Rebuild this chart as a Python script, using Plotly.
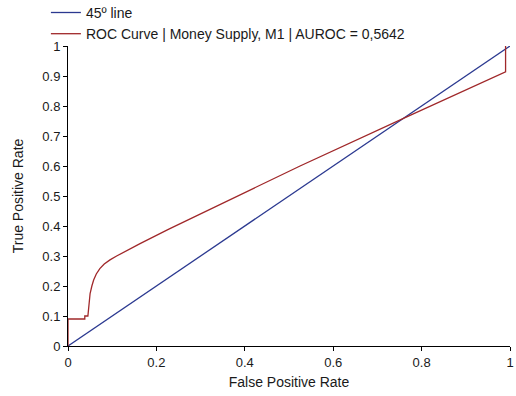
import plotly.graph_objects as go

# Diagonal reference line
diag_fpr = [0, 1]
diag_tpr = [0, 1]

# ROC curve points (false positive rate, true positive rate)
roc_fpr = [0, 0, 0.038, 0.038, 0.045, 0.046, 0.048, 0.050, 0.054, 0.058, 0.064,
           0.072, 0.082, 0.095, 0.110, 0.130, 0.163, 0.227, 0.434, 0.525,
           0.759, 0.842, 0.990, 0.990]
roc_tpr = [0, 0.09, 0.09, 0.10, 0.10, 0.12, 0.15, 0.175, 0.20, 0.22, 0.24,
           0.258, 0.273, 0.287, 0.300, 0.316, 0.341, 0.389, 0.537, 0.600,
           0.759, 0.814, 0.914, 1.0]

x_ticks = [0, 0.2, 0.4, 0.6, 0.8, 1]
y_ticks = [0, 0.1, 0.2, 0.3, 0.4, 0.5, 0.6, 0.7, 0.8, 0.9, 1]

BLUE = "#2B3990"
RED = "#A0282A"
FONT = "Liberation Sans, Arial, sans-serif"

fig = go.Figure()
fig.add_trace(go.Scatter(x=diag_fpr, y=diag_tpr, mode="lines", name="45º line",
                         line=dict(color=BLUE, width=1.3)))
fig.add_trace(go.Scatter(x=roc_fpr, y=roc_tpr, mode="lines",
                         name="ROC Curve | Money Supply, M1 | AUROC = 0,5642",
                         line=dict(color=RED, width=1.3)))

fig.update_layout(
    width=516, height=396,
    margin=dict(l=68, r=6, t=46, b=50, autoexpand=False),
    paper_bgcolor="white", plot_bgcolor="white",
    font=dict(family=FONT, size=13, color="#1a1a1a"),
    legend=dict(x=-0.05, y=0.987, xanchor="left", yanchor="bottom",
                bgcolor="rgba(0,0,0,0)", itemwidth=30,
                font=dict(size=14), tracegroupgap=0),
    showlegend=True,
)
fig.update_xaxes(
    range=[0, 1], tickvals=x_ticks, ticktext=[f"{v:g}" for v in x_ticks],
    showgrid=False, zeroline=False, showline=True, linecolor="black", linewidth=1,
    ticks="outside", ticklen=4, tickcolor="black",
    tickfont=dict(size=13),
    title=dict(text="False Positive Rate", standoff=8, font=dict(size=14)),
)
fig.update_yaxes(
    range=[0, 1], tickvals=y_ticks, ticktext=[f"{v:g}" for v in y_ticks],
    showgrid=False, zeroline=False, showline=True, linecolor="black", linewidth=1,
    ticks="outside", ticklen=4, tickcolor="black",
    tickfont=dict(size=13),
    title=dict(text="True Positive Rate", standoff=15, font=dict(size=14)),
)

fig.write_html("out.html")
